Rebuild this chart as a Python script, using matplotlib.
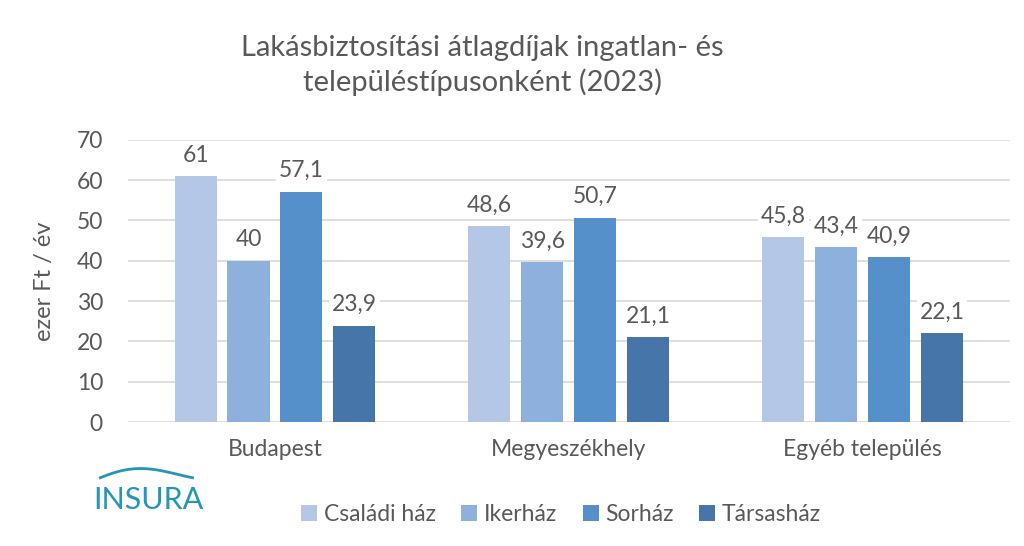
import numpy as np
import matplotlib.pyplot as plt

plt.rcParams['font.family'] = ['Lato', 'DejaVu Sans']

categories = ['Budapest', 'Megyeszékhely', 'Egyéb település']
series = ['Családi ház', 'Ikerház', 'Sorház', 'Társasház']
values = [
    [61, 48.6, 45.8],
    [40, 39.6, 43.4],
    [57.1, 50.7, 40.9],
    [23.9, 21.1, 22.1],
]
colors = ['#b4c7e7', '#8db0dc', '#5590cb', '#4676a9']
text_col = '#595959'

fig = plt.figure(figsize=(10.24, 5.46), dpi=100)
ax = fig.add_axes([0.125, 0.227, 0.861, 0.517])

x = np.arange(len(categories))
step = 0.18
width = 0.143
for i, (name, vals) in enumerate(zip(series, values)):
    pos = x + (i - 1.5) * step
    ax.bar(pos, vals, width, color=colors[i], label=name, zorder=3)
    for p, v in zip(pos, vals):
        lbl = ('%g' % v).replace('.', ',')
        ax.text(p, v + 2.6, lbl, ha='center', va='bottom', fontsize=16.5,
                color=text_col, zorder=4,
                bbox=dict(facecolor='white', edgecolor='none', pad=2))

ax.set_xlim(-0.5, 2.5)
ax.set_ylim(0, 70)
ax.set_yticks(range(0, 71, 10))
ax.yaxis.grid(True, color='#d9d9d9', linewidth=1.2, zorder=0)
ax.set_xticks(x)
ax.set_xticklabels(categories)
ax.tick_params(axis='both', length=0, labelsize=16.5, labelcolor=text_col)
ax.tick_params(axis='y', pad=18)
ax.tick_params(axis='x', pad=12)
for s in ax.spines.values():
    s.set_visible(False)
ax.set_ylabel('ezer Ft / év', fontsize=17, color=text_col)
ax.yaxis.set_label_coords(-0.083, 0.5)

fig.text(0.471, 0.88, 'Lakásbiztosítási átlagdíjak ingatlan- és\ntelepüléstípusonként (2023)',
         ha='center', va='center', fontsize=21, color=text_col, linespacing=1.35)

leg = fig.legend(loc='center', bbox_to_anchor=(0.548, 0.057), ncol=4, frameon=False,
                 fontsize=16.5, handlelength=0.7, handleheight=0.7, handletextpad=0.3,
                 columnspacing=1.1)
for t in leg.get_texts():
    t.set_color(text_col)

# logo
fig.text(0.145, 0.085, 'INSURA', ha='center', va='center', fontsize=22,
         color='#2596b8')
t = np.linspace(0, 1, 50)
fig.lines.append(plt.Line2D(0.098 + 0.09 * t,
                            0.125 + 0.022 * np.sin(np.pi * t) * (1 - 0.5 * t),
                            transform=fig.transFigure, color='#2596b8', linewidth=2))

fig.savefig('out.png', dpi=100, facecolor='white')
